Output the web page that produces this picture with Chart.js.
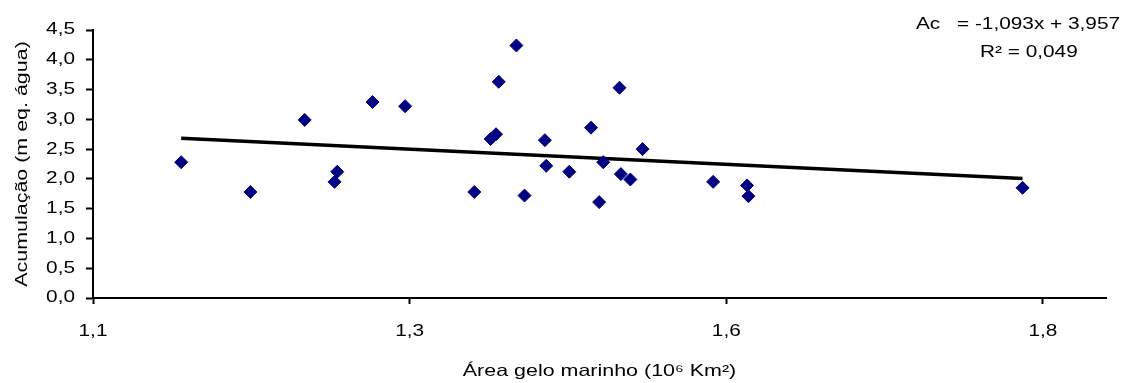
<!DOCTYPE html>
<html>
<head>
<meta charset="utf-8">
<script src="https://cdn.jsdelivr.net/npm/chart.js@4"></script>
<style>
  html, body { margin: 0; padding: 0; background: #ffffff; }
  #wrap { width: 1125px; height: 383px; }
</style>
</head>
<body>
<div id="wrap"><canvas id="c" width="1125" height="383"></canvas></div>
<script>
// Sea-ice area (10^6 km²) against accumulation (m water equivalent)
const areaGelo   = [1.165, 1.216, 1.256, 1.278, 1.280, 1.306, 1.330, 1.381, 1.393, 1.397,
                    1.399, 1.412, 1.418, 1.433, 1.434, 1.451, 1.467, 1.473, 1.476, 1.488,
                    1.489, 1.496, 1.505, 1.557, 1.582, 1.583, 1.785];
const acumulacao = [2.28, 1.78, 2.99, 1.95, 2.12, 3.29, 3.22, 1.78, 2.67, 2.75,
                    3.63, 4.24, 1.72, 2.65, 2.22, 2.12, 2.86, 1.61, 2.28, 3.53,
                    2.08, 1.99, 2.50, 1.95, 1.89, 1.71, 1.85];

// Linear trend (as reported)
const slope = -1.093;
const intercept = 3.957;
const r2 = 0.049;

// Axis tick values
const xTicks = [1.1, 1.1 + 0.7 / 3, 1.1 + 1.4 / 3, 1.8];
const xRange = [1.1, 1.8465];
const yRange = [0, 4.5];
const yStep = 0.5;

const FONT = '"Liberation Sans", Arial, sans-serif';
const TEXT_STRETCH = 1.3; // wide lettering: glyphs drawn 1.3x wider along the text direction
const fmt = (v, d) => v.toFixed(d).replace('.', ',');

const points = areaGelo.map((x, i) => ({ x, y: acumulacao[i] }));
const xMin = Math.min(...areaGelo), xMax = Math.max(...areaGelo);
const trend = [xMin, xMax].map(x => ({ x, y: slope * x + intercept }));

// Widen all text drawn on the canvas, keeping each label's anchor in place
const wideText = {
  id: 'wideText',
  beforeInit(chart) {
    const ctx = chart.ctx;
    const k = TEXT_STRETCH;
    const fill = ctx.fillText.bind(ctx);
    const measure = ctx.measureText.bind(ctx);
    ctx.fillText = function (t, x, y) {
      ctx.save();
      ctx.translate(x, y);
      ctx.scale(k, 1);
      fill(t, 0, 0);
      ctx.restore();
    };
    ctx.measureText = function (t) {
      const m = measure(t);
      return {
        width: m.width * k,
        actualBoundingBoxAscent: m.actualBoundingBoxAscent,
        actualBoundingBoxDescent: m.actualBoundingBoxDescent,
        actualBoundingBoxLeft: m.actualBoundingBoxLeft * k,
        actualBoundingBoxRight: m.actualBoundingBoxRight * k
      };
    };
  }
};

const equation = {
  id: 'equation',
  afterDraw(chart) {
    const ctx = chart.ctx;
    ctx.save();
    ctx.fillStyle = '#000';
    ctx.font = '16px ' + FONT;
    ctx.textBaseline = 'middle';
    ctx.textAlign = 'left';
    ctx.fillText('Ac', 916, 25);
    const sign = intercept >= 0 ? '+' : '-';
    ctx.fillText('= ' + fmt(slope, 3) + 'x ' + sign + ' ' + fmt(Math.abs(intercept), 3), 957, 25);
    ctx.fillText('R² = ' + fmt(r2, 3), 980, 53);
    ctx.restore();
  }
};

new Chart(document.getElementById('c'), {
  type: 'scatter',
  data: {
    datasets: [
      {
        type: 'line',
        data: trend,
        borderColor: '#000000',
        borderWidth: 3.5,
        pointRadius: 0,
        fill: false,
        order: 2
      },
      {
        data: points,
        pointStyle: 'rectRot',
        pointRadius: 6.5,
        pointBackgroundColor: '#000080',
        pointBorderColor: '#000080',
        pointBorderWidth: 1,
        order: 1
      }
    ]
  },
  options: {
    responsive: false,
    animation: false,
    devicePixelRatio: 1,
    layout: { padding: { top: 30, right: 19, left: 0, bottom: 0 } },
    plugins: {
      legend: { display: false },
      tooltip: { enabled: false }
    },
    scales: {
      x: {
        type: 'linear',
        min: xRange[0],
        max: xRange[1],
        afterBuildTicks(scale) { scale.ticks = xTicks.map(v => ({ value: v })); },
        afterFit(scale) { scale.height = 85; },
        border: { display: true, color: '#000', width: 2 },
        grid: { display: true, drawOnChartArea: false, drawTicks: true, tickLength: 6, tickColor: '#000', tickWidth: 2 },
        ticks: {
          color: '#000',
          font: { family: FONT, size: 16 },
          padding: 18,
          maxRotation: 0,
          callback: v => fmt(v, 1)
        },
        title: {
          display: true,
          text: 'Área gelo marinho (10⁶ Km²)',
          color: '#000',
          font: { family: FONT, size: 16.5 },
          padding: { top: 0, bottom: 2 }
        }
      },
      y: {
        min: yRange[0],
        max: yRange[1],
        afterFit(scale) { scale.width = 93; },
        border: { display: true, color: '#000', width: 2 },
        grid: { display: true, drawOnChartArea: false, drawTicks: true, tickLength: 7, tickColor: '#000', tickWidth: 2 },
        ticks: {
          stepSize: yStep,
          color: '#000',
          font: { family: FONT, size: 16 },
          padding: 11,
          callback: v => fmt(v, 1)
        },
        title: {
          display: true,
          text: 'Acumulação (m eq. água)',
          color: '#000',
          font: { family: FONT, size: 16.5 },
          padding: { top: 13, bottom: 0 }
        }
      }
    }
  },
  plugins: [wideText, equation]
});
</script>
</body>
</html>
